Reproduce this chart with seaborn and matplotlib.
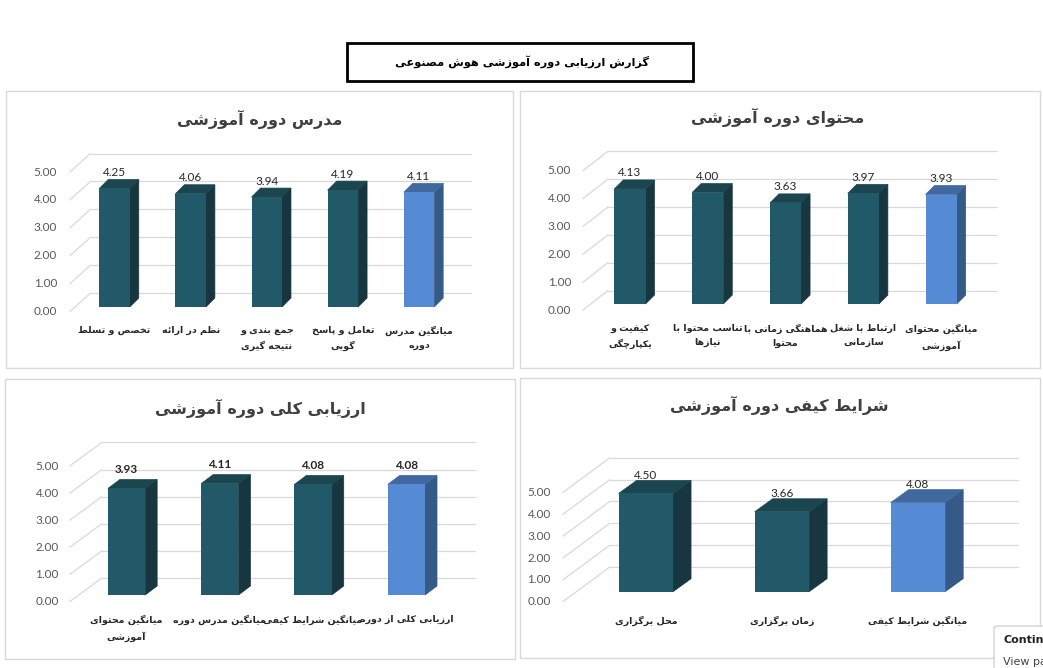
import matplotlib
matplotlib.use('Agg')
import matplotlib.pyplot as plt
import seaborn as sns
from matplotlib.patches import Polygon, Rectangle, FancyBboxPatch

# data
report_title = 'گزارش ارزیابی دوره آموزشی هوش مصنوعی'

teacher_title = 'مدرس دوره آموزشی'
teacher_labels = ['تخصص و تسلط', 'نظم در ارائه', 'جمع بندی و\nنتیجه گیری', 'تعامل و پاسخ\nگویی', 'میانگین مدرس\nدوره']
teacher_values = [4.25, 4.06, 3.94, 4.19, 4.11]

content_title = 'محتوای دوره آموزشی'
content_labels = ['کیفیت و\nیکپارچگی', 'تناسب محتوا با\nنیازها', 'هماهنگی زمانی با\nمحتوا', 'ارتباط با شغل\nسازمانی', 'میانگین محتوای\nآموزشی']
content_values = [4.13, 4.00, 3.63, 3.97, 3.93]

overall_title = 'ارزیابی کلی دوره آموزشی'
overall_labels = ['میانگین محتوای\nآموزشی', 'میانگین مدرس دوره', 'میانگین شرایط کیفی', 'ارزیابی کلی از دوره']
overall_values = [3.93, 4.11, 4.08, 4.08]

quality_title = 'شرایط کیفی دوره آموزشی'
quality_labels = ['محل برگزاری', 'زمان برگزاری', 'میانگین شرایط کیفی']
quality_values = [4.50, 3.66, 4.08]

yticks = [0, 1, 2, 3, 4, 5]

# simple arabic/persian shaping (matplotlib has no shaping engine)
FORMS = {
    'ا': 'FE8D FE8E', 'آ': 'FE81 FE82', 'د': 'FEA9 FEAA', 'ذ': 'FEAB FEAC',
    'ر': 'FEAD FEAE', 'ز': 'FEAF FEB0', 'ژ': 'FB8A FB8B', 'و': 'FEED FEEE',
    'ب': 'FE8F FE90 FE91 FE92', 'پ': 'FB56 FB57 FB58 FB59', 'ت': 'FE95 FE96 FE97 FE98',
    'ث': 'FE99 FE9A FE9B FE9C', 'ج': 'FE9D FE9E FE9F FEA0', 'چ': 'FB7A FB7B FB7C FB7D',
    'ح': 'FEA1 FEA2 FEA3 FEA4', 'خ': 'FEA5 FEA6 FEA7 FEA8', 'س': 'FEB1 FEB2 FEB3 FEB4',
    'ش': 'FEB5 FEB6 FEB7 FEB8', 'ص': 'FEB9 FEBA FEBB FEBC', 'ض': 'FEBD FEBE FEBF FEC0',
    'ط': 'FEC1 FEC2 FEC3 FEC4', 'ظ': 'FEC5 FEC6 FEC7 FEC8', 'ع': 'FEC9 FECA FECB FECC',
    'غ': 'FECD FECE FECF FED0', 'ف': 'FED1 FED2 FED3 FED4', 'ق': 'FED5 FED6 FED7 FED8',
    'ک': 'FB8E FB8F FB90 FB91', 'گ': 'FB92 FB93 FB94 FB95', 'ل': 'FEDD FEDE FEDF FEE0',
    'م': 'FEE1 FEE2 FEE3 FEE4', 'ن': 'FEE5 FEE6 FEE7 FEE8', 'ه': 'FEE9 FEEA FEEB FEEC',
    'ی': 'FBFC FBFD FBFE FBFF', 'ئ': 'FE89 FE8A FE8B FE8C',
}
FORMS = {k: [chr(int(h, 16)) for h in v.split()] for k, v in FORMS.items()}


def shape_line(text):
    out = []
    for i, c in enumerate(text):
        if c not in FORMS:
            out.append(c)
            continue
        f = FORMS[c]
        prev = text[i - 1] if i > 0 else ''
        nxt = text[i + 1] if i + 1 < len(text) else ''
        jp = prev in FORMS and len(FORMS[prev]) == 4
        jn = len(f) == 4 and nxt in FORMS
        if jp and jn:
            out.append(f[3])
        elif jp:
            out.append(f[1])
        elif jn:
            out.append(f[2])
        else:
            out.append(f[0])
    return ''.join(out[::-1])


def fa(text):
    return '\n'.join(shape_line(t) for t in text.split('\n'))


W, H = 1043, 668
TEAL = '#215968'
BLUE = '#558BD4'
SHADES = {TEAL: ('#17363F', '#1B4650'), BLUE: ('#355A88', '#4169A0')}

sns.set_theme(style='white')
plt.rcParams['font.family'] = ['DejaVu Sans']

fig = plt.figure(figsize=(W / 100, H / 100), dpi=100)
fig.patch.set_facecolor('white')


def fx(px):
    return px / W


def fy(py):
    return 1 - py / H


# header box
fig.patches.append(Rectangle((fx(347), fy(81)), fx(693) - fx(347), fy(43) - fy(81),
                             transform=fig.transFigure, fill=False, edgecolor='black', linewidth=2))
fig.text(fx(522), fy(62), fa(report_title), ha='center', va='center', fontsize=8.2,
         fontweight='bold', color='black')

panels = [
    dict(title=teacher_title, labels=teacher_labels, values=teacher_values,
         frame=(6, 91, 513, 368), box=(76.5, 167.5, 457, 307), title_xy=(260, 119),
         depth=(9, 9), back=(14, 14), floor=(-6.5, -4.5), tick_dx=-19.5, val_dy=7,
         lab_y=326, bold_vals=False),
    dict(title=content_title, labels=content_labels, values=content_values,
         frame=(520, 91, 1040, 368), box=(591, 164.7, 980, 304), title_xy=(778, 117),
         depth=(9, 9), back=(17, 13.5), floor=(-8, -6), tick_dx=-20, val_dy=7,
         lab_y=324, bold_vals=False),
    dict(title=overall_title, labels=overall_labels, values=overall_values,
         frame=(5, 379, 515, 659), box=(79.85, 459.5, 453, 595), title_xy=(260, 408),
         depth=(12, 9), back=(22, 17), floor=(-10, -6.5), tick_dx=-21, val_dy=10,
         lab_y=615, bold_vals=True),
    dict(title=quality_title, labels=quality_labels, values=quality_values,
         frame=(520, 378, 1040, 658), box=(577.8, 482.5, 986, 591.7), title_xy=(779, 405),
         depth=(18, 13), back=(32, 24.7), floor=(-15, -10), tick_dx=-27, val_dy=5,
         lab_y=616, bold_vals=False),
]

for p in panels:
    # panel frame
    x0, y0, x1, y1 = p['frame']
    fig.patches.append(Rectangle((fx(x0), fy(y1)), fx(x1) - fx(x0), fy(y0) - fy(y1),
                                 transform=fig.transFigure, fill=False,
                                 edgecolor='#D9D9D9', linewidth=1))
    fig.text(fx(p['title_xy'][0]), fy(p['title_xy'][1]), fa(p['title']), ha='center',
             va='center', fontsize=11.5, fontweight='bold', color='#404040')

    l, t, r, b = p['box']
    ax = fig.add_axes([fx(l), fy(b), fx(r) - fx(l), fy(t) - fy(b)])
    n = len(p['values'])
    colors = [TEAL] * (n - 1) + [BLUE]
    sns.barplot(x=p['labels'], y=p['values'], hue=p['labels'], palette=colors,
                legend=False, width=0.4, saturation=1, linewidth=0, ax=ax, zorder=3)
    ax.set_xlim(-0.5, n - 0.5)
    ax.set_ylim(0, 5)
    ax.axis('off')

    # pixel -> data units
    sx = (r - l) / n
    sy = (b - t) / 5

    def off(d):
        return d[0] / sx, d[1] / sy

    bdx, bdy = off(p['back'])
    fdx, fdy = off(p['floor'])
    ddx, ddy = off(p['depth'])

    # 3d grid: floor-to-back diagonals and back wall lines
    for v in yticks:
        ax.plot([-0.5 + fdx, -0.5 + bdx], [v + fdy, v + bdy], color='#D9D9D9', lw=0.9,
                zorder=0.5, clip_on=False)
        ax.plot([-0.5 + bdx, n - 0.5 + bdx], [v + bdy, v + bdy], color='#D9D9D9', lw=0.9,
                zorder=0.5, clip_on=False)
        ax.text(-0.5 + p['tick_dx'] / sx, v + fdy, f'{v:.2f}', ha='right', va='center',
                fontsize=8.5, fontfamily='Lato', color='#595959')

    # side and top faces of each bar
    for bar in ax.patches:
        bx = bar.get_x()
        bw = bar.get_width()
        bh = bar.get_height()
        face = matplotlib.colors.to_hex(bar.get_facecolor()).upper()
        side_c, top_c = SHADES[BLUE] if face == BLUE.upper() else SHADES[TEAL]
        side = Polygon([(bx + bw, 0), (bx + bw + ddx, ddy), (bx + bw + ddx, bh + ddy), (bx + bw, bh)],
                       closed=True, facecolor=side_c, edgecolor=side_c, lw=0.5, zorder=2.5, clip_on=False)
        top = Polygon([(bx, bh), (bx + bw, bh), (bx + bw + ddx, bh + ddy), (bx + ddx, bh + ddy)],
                      closed=True, facecolor=top_c, edgecolor=top_c, lw=0.5, zorder=2.5, clip_on=False)
        ax.add_patch(side)
        ax.add_patch(top)
        bar.set_clip_on(False)

    # value labels and category labels
    for i, (lab, val) in enumerate(zip(p['labels'], p['values'])):
        ax.text(i, val + ddy + p['val_dy'] / sy, f'{val:.2f}', ha='center', va='center',
                fontsize=8.5, fontfamily='Lato', color='#262626',
                fontweight='bold' if p['bold_vals'] else 'normal')
        ax.text(i, -(p['lab_y'] - b) / sy, fa(lab), ha='center', va='top', fontsize=6.8,
                fontweight='bold', color='#262626', linespacing=1.7)

# small popup box in the corner of the screenshot
fig.patches.append(FancyBboxPatch((fx(994), fy(672)), 0.1, fy(626) - fy(672),
                                  boxstyle='round,pad=0,rounding_size=0.004',
                                  transform=fig.transFigure, facecolor='white',
                                  edgecolor='#C8C8C8', linewidth=0.8))
fig.text(fx(1003), fy(640), 'Continu', ha='left', va='center', fontsize=8,
         fontweight='bold', color='#222222')
fig.text(fx(1003), fy(662), 'View pa', ha='left', va='center', fontsize=8, color='#444444')

fig.savefig('out.png', dpi=100)
